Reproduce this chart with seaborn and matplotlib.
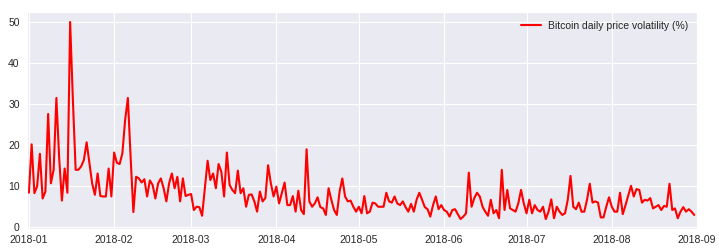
import numpy as np
import pandas as pd
import matplotlib
matplotlib.use("Agg")
import matplotlib.pyplot as plt
import matplotlib.dates as mdates
import seaborn as sns

# Daily volatility (%) by month
jan = [8.4, 20.2, 8.3, 10.0, 17.9, 7.0, 8.7, 27.6, 10.7, 14.0, 31.5, 17.0, 6.5, 14.3, 8.4, 50.0,
       31.0, 14.0, 14.0, 14.8, 16.4, 20.7, 15.6, 10.7, 7.9, 13.1, 7.6, 7.5, 7.5, 14.3, 7.5]
feb = [18.2, 15.7, 15.4, 18.0, 26.1, 31.5, 17.0, 3.7, 12.3, 11.9, 10.9, 11.7, 7.5, 11.4, 10.3,
       7.0, 10.7, 11.9, 9.5, 6.3, 10.7, 13.1, 9.5, 12.3, 6.3, 11.9, 7.6, 7.9]
mar = [8.1, 4.2, 5.0, 4.9, 2.8, 9.5, 16.2, 11.5, 13.1, 9.5, 15.4, 13.5, 7.5, 18.2, 10.3, 9.1,
       8.3, 13.8, 8.3, 9.5, 5.0, 7.9, 8.0, 6.3, 3.8, 8.7, 6.3, 7.1, 15.1, 10.7, 7.5]
apr = [9.9, 5.8, 8.3, 10.9, 5.4, 5.4, 7.6, 3.8, 8.9, 4.2, 3.2, 19.0, 6.3, 5.0, 5.8, 7.3,
       4.9, 4.6, 3.0, 9.5, 6.7, 4.2, 3.0, 8.7, 11.9, 7.5, 6.3, 6.5, 5.0, 3.8]
may = [5.0, 3.4, 7.6, 3.4, 3.8, 6.0, 5.8, 5.0, 5.0, 5.0, 8.4, 6.3, 6.0, 7.5, 5.8, 5.4,
       6.3, 4.9, 3.8, 5.7, 3.8, 6.7, 8.4, 6.7, 4.9, 4.4, 2.6, 5.4, 7.5, 4.4, 5.4]
jun = [4.2, 3.8, 2.6, 4.2, 4.4, 3.2, 2.0, 2.6, 3.4, 13.3, 5.0, 7.1, 8.4, 7.5, 5.0, 3.8,
       2.8, 6.7, 3.4, 4.2, 2.2, 14.0, 4.2, 9.1, 4.6, 4.2, 3.8, 5.8, 9.1, 5.8]
jul = [3.4, 6.7, 3.4, 5.4, 4.2, 3.8, 5.0, 2.0, 3.8, 6.8, 2.2, 5.0, 3.8, 3.0, 3.4, 6.7,
       12.5, 5.0, 4.4, 6.0, 3.8, 3.8, 6.7, 10.6, 6.0, 6.3, 6.0, 2.4, 2.4, 5.0, 7.3]
aug = [5.0, 3.8, 3.8, 8.4, 3.2, 5.4, 7.8, 10.1, 7.5, 9.3, 9.1, 6.0, 6.7, 6.5, 7.1, 4.6,
       5.0, 5.4, 4.2, 5.2, 5.0, 10.6, 4.2, 4.6, 2.2, 3.8, 4.9, 3.8, 4.4, 3.8, 3.0]

volatility = jan + feb + mar + apr + may + jun + jul + aug
dates = pd.date_range("2018-01-01", periods=len(volatility), freq="D")
series_label = "Bitcoin daily price volatility (%)"
yticks = [0, 10, 20, 30, 40, 50]

df = pd.DataFrame({"date": dates, "vol": volatility})

sns.set_style("darkgrid")
plt.rcParams["font.family"] = ["Liberation Sans", "DejaVu Sans"]

fig = plt.figure(figsize=(7.19, 2.52), dpi=100)
ax = fig.add_axes([0.037, 0.090, 0.9324, 0.8636])
sns.lineplot(data=df, x="date", y="vol", color="red", linewidth=1.5,
             label=series_label, ax=ax)

ax.set_xlim(pd.Timestamp("2017-12-31 04:00"), pd.Timestamp("2018-09-01"))
ax.set_ylim(-0.5, 52.5)
ax.set_yticks(yticks)
ax.xaxis.set_major_locator(mdates.MonthLocator())
ax.xaxis.set_major_formatter(mdates.DateFormatter("%Y-%m"))
ax.set_xlabel("")
ax.set_ylabel("")
ax.tick_params(axis="x", labelsize=7.5, pad=4, length=0)
ax.tick_params(axis="y", labelsize=7.5, pad=5, length=0)
leg = ax.legend(loc="upper right", fontsize=7.5, frameon=False,
                handlelength=1.9, handletextpad=0.7, borderaxespad=0.45)

fig.savefig("out.png", dpi=100)
